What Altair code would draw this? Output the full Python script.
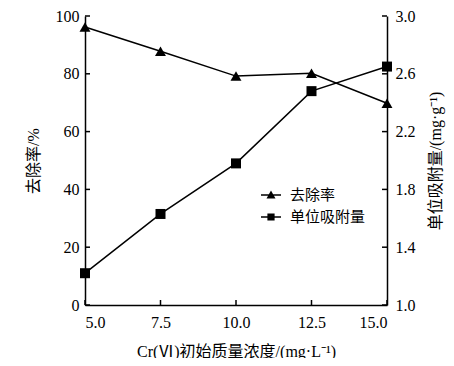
import altair as alt
import pandas as pd

conc = [5.0, 7.5, 10.0, 12.5, 15.0]
removal = [96.2, 87.8, 79.2, 80.2, 69.8]
adsorption = [1.22, 1.63, 1.98, 2.48, 2.65]
x_ticks = [5.0, 7.5, 10.0, 12.5, 15.0]
left_ticks = [0, 20, 40, 60, 80, 100]
right_ticks = [1.0, 1.4, 1.8, 2.2, 2.6, 3.0]
series = ["去除率", "单位吸附量"]

W, H = 302, 289
FONT = "'Liberation Serif', 'Noto Sans CJK SC', serif"

df_r = pd.DataFrame({"c": conc, "v": removal})
df_a = pd.DataFrame({"c": conc, "a": adsorption})
df_lt = pd.DataFrame({"v": left_ticks})
df_rt = pd.DataFrame({"a": right_ticks})
df_xt = pd.DataFrame({"c": x_ticks})
df_leg = pd.DataFrame({"s": series})

xscale = alt.Scale(domain=[5, 15], nice=False, zero=False)
ly = alt.Scale(domain=[0, 100], nice=False)
ry = alt.Scale(domain=[1.0, 3.0], nice=False, zero=False)

xaxis = alt.Axis(values=x_ticks, format=".1f", title="Cr(Ⅵ)初始质量浓度/(mg·L⁻¹)",
                 ticks=False, grid=False, labelPadding=9, titlePadding=13)
X = alt.X("c:Q", scale=xscale, axis=xaxis)

tri = "M-1,-0.07H1V0.07H-1ZM-0.45,0.36L0,-0.45L0.45,0.36Z"
sq = "M-1,-0.07H1V0.07H-1ZM-0.36,-0.36H0.36V0.36H-0.36Z"

left_line = alt.Chart(df_r).mark_line(color="black", strokeWidth=1.5).encode(
    x=X,
    y=alt.Y("v:Q", scale=ly, axis=alt.Axis(values=left_ticks, title="去除率/%", ticks=False,
                                           grid=False, orient="left", labelPadding=6,
                                           titlePadding=14)))
left_pts = alt.Chart(df_r).mark_point(shape="triangle-up", filled=True, color="black",
                                      size=120, opacity=1).encode(
    x=X, y=alt.Y("v:Q", scale=ly, axis=None))
left_tk = alt.Chart(df_lt).mark_rule(color="black", strokeWidth=1.5).encode(
    y=alt.Y("v:Q", scale=ly, axis=None), x=alt.value(0), x2=alt.value(5))
x_tk = alt.Chart(df_xt).mark_rule(color="black", strokeWidth=1.5).encode(
    x=X, y=alt.value(H), y2=alt.value(H - 5))
legend_layer = alt.Chart(df_leg).mark_point(filled=True, fill="black", opacity=0).encode(
    x=alt.value(0), y=alt.value(0),
    shape=alt.Shape("s:N", scale=alt.Scale(domain=series, range=[tri, sq]),
                    legend=alt.Legend(title=None, orient="none", legendX=176, legendY=169,
                                      symbolSize=400, symbolFillColor="black",
                                      symbolStrokeWidth=0,
                                      symbolOpacity=1, labelFont=FONT, labelFontSize=15,
                                      labelColor="black", rowPadding=4, labelOffset=9)))

right_line = alt.Chart(df_a).mark_line(color="black", strokeWidth=1.5).encode(
    x=X,
    y=alt.Y("a:Q", scale=ry, axis=alt.Axis(values=right_ticks, format=".1f",
                                           title="单位吸附量/(mg·g⁻¹)", ticks=False, grid=False,
                                           orient="right", labelPadding=8, titlePadding=12,
                                           titleAngle=270, titleBaseline="top")))
right_pts = alt.Chart(df_a).mark_point(shape="square", filled=True, color="black",
                                       size=100, opacity=1).encode(
    x=X, y=alt.Y("a:Q", scale=ry, axis=None))
right_tk = alt.Chart(df_rt).mark_rule(color="black", strokeWidth=1.5).encode(
    y=alt.Y("a:Q", scale=ry, axis=None), x=alt.value(W), x2=alt.value(W - 5))

chart = alt.layer(left_line, left_pts, left_tk, x_tk, right_line, right_pts, right_tk,
                  legend_layer).resolve_scale(y="independent").properties(
    width=W, height=H, autosize=alt.AutoSizeParams(type="none"),
    padding={"left": 77, "top": 8, "right": 59, "bottom": 53}
).configure_view(strokeWidth=0).configure_axis(
    labelFont=FONT, labelFontSize=16, labelColor="black",
    titleFont=FONT, titleFontSize=16, titleFontWeight="normal", titleColor="black",
    domainColor="black", domainWidth=1.5
)

chart.save("out.html", embed_options={"renderer": "svg", "actions": False})
